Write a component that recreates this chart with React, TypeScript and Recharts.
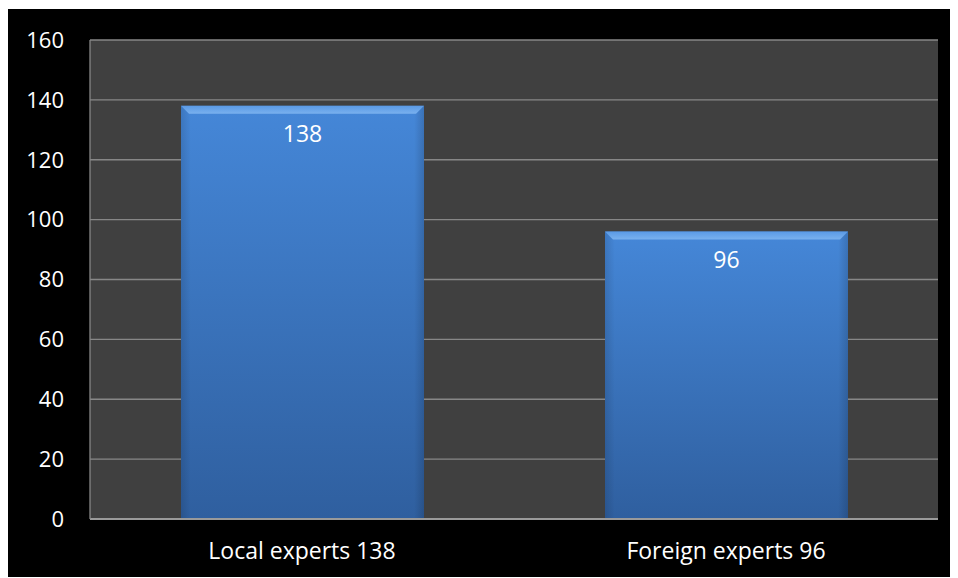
import { BarChart, Bar, XAxis, YAxis, CartesianGrid, LabelList } from "recharts";

const categories = ["Local experts 138", "Foreign experts 96"];
const counts = [138, 96];
const yTicks = [0, 20, 40, 60, 80, 100, 120, 140, 160];

const data = categories.map((name, i) => ({ name, value: counts[i] }));

const font = "'Open Sans', sans-serif";

function BevelBar(props: any) {
  const { x, y, width, height } = props;
  if (!height || height <= 0) return null;
  const b = 8;
  return (
    <g>
      <rect x={x} y={y} width={width} height={height} fill="url(#barFill)" />
      <rect x={x} y={y} width={width} height={height} fill="url(#barSide)" />
      <polygon
        points={`${x},${y} ${x + width},${y} ${x + width - b},${y + b} ${x + b},${y + b}`}
        fill="url(#bevelTop)"
      />
    </g>
  );
}

export default function App() {
  return (
    <div
      style={{
        position: "relative",
        left: -1,
        top: 1,
        width: 951,
        height: 569,
        background: "#000",
      }}
    >
      <BarChart
        width={951}
        height={569}
        data={data}
        margin={{ top: 31, right: 20, bottom: 0, left: 0 }}
      >
        <defs>
          <linearGradient id="barFill" x1="0" y1="0" x2="0" y2="1">
            <stop offset="0%" stopColor="#4587d8" />
            <stop offset="100%" stopColor="#2f5f9f" />
          </linearGradient>
          <linearGradient id="barSide" x1="0" y1="0" x2="1" y2="0">
            <stop offset="0%" stopColor="#000" stopOpacity={0.12} />
            <stop offset="4%" stopColor="#000" stopOpacity={0} />
            <stop offset="96%" stopColor="#000" stopOpacity={0} />
            <stop offset="100%" stopColor="#000" stopOpacity={0.15} />
          </linearGradient>
          <linearGradient id="bevelTop" x1="0" y1="0" x2="0" y2="1">
            <stop offset="0%" stopColor="#5a9ae6" />
            <stop offset="100%" stopColor="#7ab1ee" />
          </linearGradient>
        </defs>
        <CartesianGrid
          vertical={false}
          stroke="#878787"
          fill="#404040"
          strokeWidth={1.3}
        />
        <XAxis
          dataKey="name"
          height={59}
          axisLine={{ stroke: "#9a9a9a", strokeWidth: 2 }}
          tickLine={false}
          tickMargin={18}
          tick={{ fill: "#fff", fontSize: 23, fontFamily: font }}
        />
        <YAxis
          width={83}
          domain={[0, 160]}
          ticks={yTicks}
          axisLine={{ stroke: "#878787", strokeWidth: 1.3 }}
          tickLine={false}
          tickMargin={20}
          tick={{ fill: "#fff", fontSize: 22, fontFamily: font }}
        />
        <Bar
          dataKey="value"
          barSize={243}
          shape={<BevelBar />}
          isAnimationActive={false}
        >
          <LabelList
            dataKey="value"
            position="insideTop"
            offset={20}
            fill="#fff"
            fontSize={23}
            fontFamily={font}
          />
        </Bar>
      </BarChart>
    </div>
  );
}
